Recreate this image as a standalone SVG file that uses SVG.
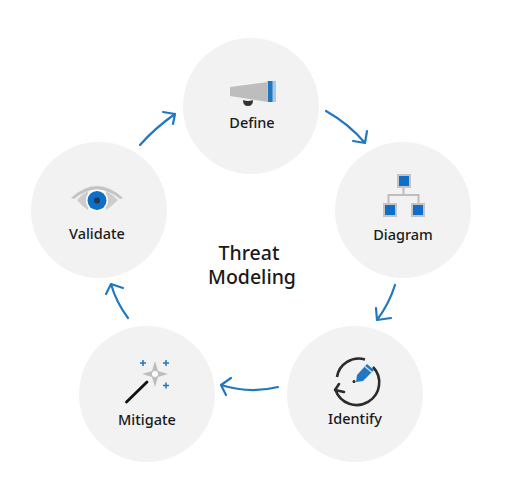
<svg xmlns="http://www.w3.org/2000/svg" width="505" height="504" viewBox="0 0 505 504">
<style>
.bg{fill:#f2f2f2}
text{font-family:"Noto Sans","Open Sans","Liberation Sans",sans-serif;font-weight:500;fill:#1a1a1a;text-anchor:middle}
.lb{font-size:14.5px}
.tt{font-size:19.5px}
.ar{fill:none;stroke:#1f78c1;stroke-width:2.2;stroke-linecap:round;stroke-linejoin:round}
</style>
<rect width="505" height="504" fill="#fff"/>
<g id="connectors" class="ar">
<path d="M326 111Q349 124 365 143M367 131L365 143L353 141"/>
<path d="M395 285Q389 304 377 320M376 308L377 320L391 318"/>
<path d="M278 387Q250 394 221 385M231 378L221 385L226 395"/>
<path d="M128 318Q116 302 111 284M106 294L111 284L123 288"/>
<path d="M140 145Q155 128 175 114M163 112L175 114L173 124"/>
</g>
<g id="define">
<circle class="bg" cx="251" cy="106" r="68"/>
<path d="M230 87L268 82V102L230 96Z" fill="#bdbdbd"/>
<rect x="267" y="81" width="9" height="21" fill="#a9c9e4"/>
<rect x="268" y="81" width="4.500" height="21" fill="#1f78c1"/>
<path d="M243 100Q248 102 253 100Q253 106 248 106Q243 106 243 100Z" fill="#333"/>
<text class="lb" x="252" y="128">Define</text>
</g>
<g id="diagram">
<circle class="bg" cx="403" cy="210" r="68"/>
<path d="M403.500 187V195M388.500 204V195H418.500V204" fill="none" stroke="#bdbdbd" stroke-width="2"/>
<rect x="397" y="174" width="14" height="14" fill="#c4c4c4"/>
<rect x="383" y="203" width="14" height="14" fill="#c4c4c4"/>
<rect x="411" y="203" width="14" height="14" fill="#c4c4c4"/>
<rect x="399" y="176" width="10" height="10" fill="#0f6fc6"/>
<rect x="385" y="205" width="10" height="10" fill="#0f6fc6"/>
<rect x="413" y="205" width="10" height="10" fill="#0f6fc6"/>
<text class="lb" x="403" y="240">Diagram</text>
</g>
<g id="identify">
<circle class="bg" cx="355" cy="394" r="68"/>
<path d="M337 377A22 22 0 0 1 365 359.500M335.500 390A22.500 22.500 0 1 0 373 367" fill="none" stroke="#2b2b2b" stroke-width="2.600"/>
<path d="M339 384L335 390L344 392" fill="none" stroke="#2b2b2b" stroke-width="2.600" stroke-linecap="round" stroke-linejoin="round"/>
<path d="M357 375L367 364L374 370L363 381L356 382Z" fill="#1f78c1"/>
<path d="M365 366.500L372 372.500" stroke="#cfe3f4" stroke-width="1.200"/>
<circle cx="354" cy="381.500" r="1.500" fill="#222"/>
<text class="lb" x="355" y="424">Identify</text>
</g>
<g id="mitigate">
<circle class="bg" cx="147" cy="394" r="68"/>
<path d="M126.500 402L147 382" stroke="#111" stroke-width="2.800" stroke-linecap="round"/>
<path d="M155 361L158 371L168 374L158 377L155 387L152 377L142 374L152 371Z" fill="#bdbdbd"/>
<circle cx="155" cy="374" r="3" fill="#fff"/>
<path d="M143 360V366M140 363H146M166 360V366M163 363H169M166 382.500V388.500M163 385.500H169" stroke="#1f78c1" stroke-width="1.500"/>
<text class="lb" x="147" y="425">Mitigate</text>
</g>
<g id="validate">
<circle class="bg" cx="99" cy="210" r="68"/>
<path d="M71 198Q97 174 123 198L120 199Q97 180 74 199Z" fill="#c4c4c4"/>
<path d="M77 200Q82 194 88 191V210Q82 206 77 200ZM118 200Q112 194 106 191V210Q112 206 118 200Z" fill="#cdcdcd"/>
<circle cx="97" cy="200.500" r="11" fill="#fff"/>
<circle cx="97" cy="200.500" r="9.500" fill="#0f6fc6"/>
<circle cx="97" cy="200.500" r="3" fill="#1f3a57"/>
<text class="lb" x="97" y="239">Validate</text>
</g>
<g id="title">
<text class="tt" x="249" y="260">Threat</text>
<text class="tt" x="252" y="284">Modeling</text>
</g>
</svg>
